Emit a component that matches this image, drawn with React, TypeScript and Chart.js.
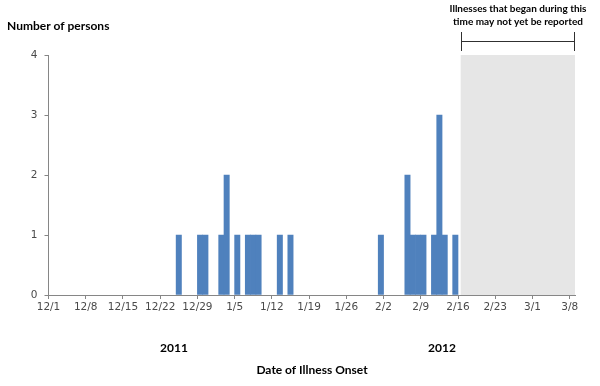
import React, { useEffect, useRef } from 'react';
import { Chart, registerables } from 'chart.js';

Chart.register(...registerables);

// ---- Data ----
const onsetDates = ['12/25', '12/29', '12/30', '1/2', '1/3', '1/5', '1/7', '1/8', '1/9', '1/13', '1/15',
  '2/1', '2/6', '2/7', '2/8', '2/9', '2/11', '2/12', '2/13', '2/15'];
const personCounts = [1, 1, 1, 1, 2, 1, 1, 1, 1, 1, 1, 1, 2, 1, 1, 1, 1, 3, 1, 1];
const tickLabels = ['12/1', '12/8', '12/15', '12/22', '12/29', '1/5', '1/12', '1/19', '1/26', '2/2', '2/9',
  '2/16', '2/23', '3/1', '3/8'];
const yearLabels = ['2011', '2012'];
const yTicks = [0, 1, 2, 3, 4];
const reportingLagStart = '2/16';
const yAxisTitle = 'Number of persons';
const xAxisTitle = 'Date of Illness Onset';
const lagNote = ['Illnesses that began during this', 'time may not yet be reported'];

function dayIndex(md: string): number {
  const [m, d] = md.split('/').map(Number);
  const y = m === 12 ? 2011 : 2012;
  return Math.round((Date.UTC(y, m - 1, d) - Date.UTC(2011, 11, 1)) / 86400000);
}

const BAR_COLOR = '#4F81BD';
const SHADE_COLOR = '#E6E6E6';
const AXIS_COLOR = '#868686';
const TEXT_COLOR = '#4a4a4a';

export default function App() {
  const ref = useRef<HTMLCanvasElement | null>(null);

  useEffect(() => {
    if (!ref.current) return;
    const xMax = dayIndex(tickLabels[tickLabels.length - 1]) + 1;
    const shadeStart = dayIndex(reportingLagStart) + 0.5;

    const overlay = {
      id: 'overlay',
      beforeDatasetsDraw(chart: any) {
        const { ctx, scales } = chart;
        const x = scales.x, y = scales.y;
        const l = x.getPixelForValue(shadeStart);
        const r = x.getPixelForValue(xMax);
        const t = y.getPixelForValue(yTicks[yTicks.length - 1]);
        const b = y.getPixelForValue(0);
        ctx.save();
        ctx.fillStyle = SHADE_COLOR;
        ctx.fillRect(l, t, r - l, b - t);
        ctx.restore();
      },
      afterDraw(chart: any) {
        const { ctx, scales } = chart;
        const x = scales.x;
        const l = Math.round(x.getPixelForValue(shadeStart)) + 0.5;
        const r = Math.round(x.getPixelForValue(xMax)) - 0.5;
        ctx.save();
        // bracket
        ctx.strokeStyle = '#303030';
        ctx.lineWidth = 1;
        ctx.beginPath();
        ctx.moveTo(l, 32); ctx.lineTo(l, 51);
        ctx.moveTo(r, 32); ctx.lineTo(r, 51);
        ctx.moveTo(l, 41.5); ctx.lineTo(r, 41.5);
        ctx.stroke();
        ctx.fillStyle = '#000';
        ctx.textBaseline = 'middle';
        ctx.textAlign = 'center';
        ctx.font = 'bold 10px Lato';
        const cx = (l + r) / 2;
        ctx.fillText(lagNote[0], cx, 9);
        ctx.fillText(lagNote[1], cx, 22);
        // y title
        ctx.textAlign = 'left';
        ctx.font = 'bold 12px Lato';
        ctx.fillText(yAxisTitle, 7, 26);
        // year labels & x title
        ctx.textAlign = 'center';
        ctx.fillText(yearLabels[0], 174, 348);
        ctx.fillText(yearLabels[1], 442, 348);
        ctx.fillText(xAxisTitle, 312, 370);
        ctx.restore();
      },
    };

    const chart = new Chart(ref.current, {
      type: 'bar',
      data: {
        datasets: [{
          data: onsetDates.map((d, i) => ({ x: dayIndex(d) + 0.5, y: personCounts[i] })),
          backgroundColor: BAR_COLOR,
          borderWidth: 0,
          barPercentage: 1,
          categoryPercentage: 1,
        }],
      },
      options: {
        animation: false,
        responsive: false,
        layout: { padding: { top: 55, right: 25, left: 0, bottom: 0 } },
        plugins: { legend: { display: false }, tooltip: { enabled: false } },
        scales: {
          x: {
            type: 'linear',
            offset: false,
            min: 0,
            max: xMax,
            afterBuildTicks(scale: any) {
              scale.ticks = tickLabels.map((t) => ({ value: dayIndex(t) }));
            },
            afterFit(scale: any) { scale.height = 91; },
            ticks: {
              autoSkip: false,
              maxRotation: 0,
              padding: 2,
              color: TEXT_COLOR,
              font: { family: 'DejaVu Sans', size: 10.5 },
              callback: (_v: any, i: number) => tickLabels[i],
            },
            grid: { offset: false, drawOnChartArea: false, drawTicks: true, tickLength: 4, color: AXIS_COLOR },
            border: { display: true, color: AXIS_COLOR },
          },
          y: {
            min: 0,
            max: yTicks[yTicks.length - 1],
            afterBuildTicks(scale: any) {
              scale.ticks = yTicks.map((v) => ({ value: v }));
            },
            afterFit(scale: any) { scale.width = 48.5; },
            ticks: {
              padding: 7,
              color: TEXT_COLOR,
              font: { family: 'DejaVu Sans', size: 10.5 },
            },
            grid: { drawOnChartArea: false, drawTicks: true, tickLength: 4, color: AXIS_COLOR },
            border: { display: true, color: AXIS_COLOR },
          },
        },
      },
      plugins: [overlay],
    } as any);

    return () => chart.destroy();
  }, []);

  return (
    <div style={{ position: 'fixed', left: 0, top: 0, width: 600, height: 386, background: '#fff' }}>
      <canvas ref={ref} width={600} height={386} style={{ width: 600, height: 386, display: 'block' }} />
    </div>
  );
}
